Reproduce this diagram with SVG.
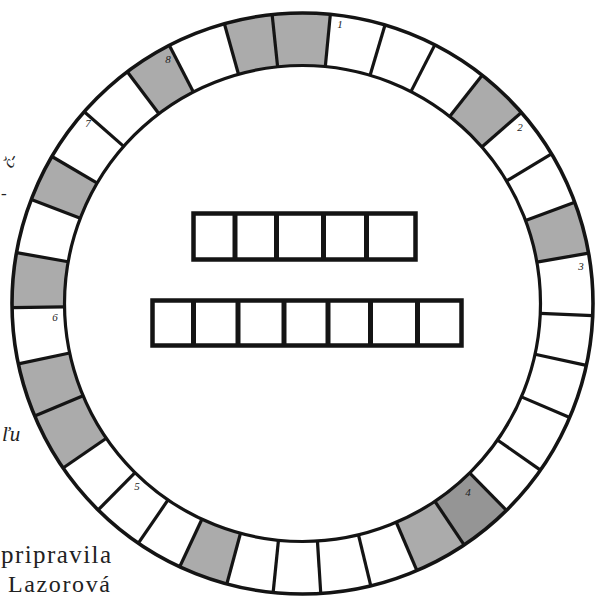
<svg xmlns="http://www.w3.org/2000/svg" xmlns:xlink="http://www.w3.org/1999/xlink" width="597" height="598" viewBox="0 0 597 598">
<style>
  .dk{fill:none;stroke:#ababab;stroke-width:52.5}
  .dk2{fill:none;stroke:#959595;stroke-width:52.5}
  .edge{fill:none;stroke:#141414}
  .dv{stroke:#141414;stroke-width:3.2}
  .box{fill:none;stroke:#141414;stroke-width:4.5}
  .bl{stroke:#141414;stroke-width:5}
  .num{font-family:"Liberation Serif","DejaVu Serif",serif;font-style:italic;font-size:11px;fill:#222;text-anchor:middle}
  .txt{font-family:"Liberation Serif","DejaVu Serif",serif;fill:#222}
</style>
<defs>
  <line id="dvl" x1="0" y1="-238" x2="0" y2="-290.5" class="dv"/>
</defs>
<rect width="597" height="598" fill="#ffffff"/>

<g id="ring">
  <g id="shaded-cells">
    <circle class="dk" cx="302.5" cy="303.5" r="264.25" stroke-dasharray="53 2000" transform="rotate(-96 302.5 303.5)"/>
    <circle class="dk" cx="302.5" cy="303.5" r="264.25" stroke-dasharray="49.3 2000" transform="rotate(-51.8 302.5 303.5)"/>
    <circle class="dk" cx="302.5" cy="303.5" r="264.25" stroke-dasharray="48 2000" transform="rotate(-20.4 302.5 303.5)"/>
    <circle class="dk2" cx="302.5" cy="303.5" r="264.25" stroke-dasharray="49.8 2000" transform="rotate(45.4 302.5 303.5)"/>
    <circle class="dk" cx="302.5" cy="303.5" r="264.25" stroke-dasharray="48.9 2000" transform="rotate(56.2 302.5 303.5)"/>
    <circle class="dk" cx="302.5" cy="303.5" r="264.25" stroke-dasharray="45.7 2000" transform="rotate(105.1 302.5 303.5)"/>
    <circle class="dk" cx="302.5" cy="303.5" r="264.25" stroke-dasharray="54 2000" transform="rotate(145.5 302.5 303.5)"/>
    <circle class="dk" cx="302.5" cy="303.5" r="264.25" stroke-dasharray="49.8 2000" transform="rotate(157.2 302.5 303.5)"/>
    <circle class="dk" cx="302.5" cy="303.5" r="264.25" stroke-dasharray="50.3 2000" transform="rotate(179.2 302.5 303.5)"/>
    <circle class="dk" cx="302.5" cy="303.5" r="264.25" stroke-dasharray="43.4 2000" transform="rotate(201 302.5 303.5)"/>
    <circle class="dk" cx="302.5" cy="303.5" r="264.25" stroke-dasharray="45.2 2000" transform="rotate(232.9 302.5 303.5)"/>
    <circle class="dk" cx="302.5" cy="303.5" r="264.25" stroke-dasharray="44.3 2000" transform="rotate(254.4 302.5 303.5)"/>
  </g>
  <circle class="edge" cx="302.5" cy="303.5" r="290.5" stroke-width="3.6"/>
  <circle class="edge" cx="302.5" cy="303.5" r="238" stroke-width="3.2"/>
  <g id="ring-dividers" transform="translate(302.5 303.5)">
    <use xlink:href="#dvl" transform="rotate(-6)"/>
    <use xlink:href="#dvl" transform="rotate(5.5)" style="stroke-width:6"/>
    <use xlink:href="#dvl" transform="rotate(16.5)"/>
    <use xlink:href="#dvl" transform="rotate(27.1)"/>
    <use xlink:href="#dvl" transform="rotate(38.2)"/>
    <use xlink:href="#dvl" transform="rotate(48.9)"/>
    <use xlink:href="#dvl" transform="rotate(59)"/>
    <use xlink:href="#dvl" transform="rotate(69.6)"/>
    <use xlink:href="#dvl" transform="rotate(80)"/>
    <use xlink:href="#dvl" transform="rotate(92.4)"/>
    <use xlink:href="#dvl" transform="rotate(102.3)"/>
    <use xlink:href="#dvl" transform="rotate(113.1)"/>
    <use xlink:href="#dvl" transform="rotate(125)"/>
    <use xlink:href="#dvl" transform="rotate(135.4)"/>
    <use xlink:href="#dvl" transform="rotate(146.2)"/>
    <use xlink:href="#dvl" transform="rotate(156.8)"/>
    <use xlink:href="#dvl" transform="rotate(166.4)"/>
    <use xlink:href="#dvl" transform="rotate(176.4)"/>
    <use xlink:href="#dvl" transform="rotate(185.8)"/>
    <use xlink:href="#dvl" transform="rotate(195.1)"/>
    <use xlink:href="#dvl" transform="rotate(205)"/>
    <use xlink:href="#dvl" transform="rotate(214.4)"/>
    <use xlink:href="#dvl" transform="rotate(224.7)"/>
    <use xlink:href="#dvl" transform="rotate(235.5)"/>
    <use xlink:href="#dvl" transform="rotate(247.2)"/>
    <use xlink:href="#dvl" transform="rotate(258)"/>
    <use xlink:href="#dvl" transform="rotate(269.2)"/>
    <use xlink:href="#dvl" transform="rotate(280.1)"/>
    <use xlink:href="#dvl" transform="rotate(291)"/>
    <use xlink:href="#dvl" transform="rotate(300.4)"/>
    <use xlink:href="#dvl" transform="rotate(311.3)"/>
    <use xlink:href="#dvl" transform="rotate(322.9)"/>
    <use xlink:href="#dvl" transform="rotate(332.7)"/>
    <use xlink:href="#dvl" transform="rotate(344.4)"/>
  </g>
  <g id="ring-numbers">
    <text class="num" x="340" y="28">1</text>
    <text class="num" x="520" y="131">2</text>
    <text class="num" x="581" y="270">3</text>
    <text class="num" x="468" y="496">4</text>
    <text class="num" x="137" y="490">5</text>
    <text class="num" x="55" y="321">6</text>
    <text class="num" x="88" y="127">7</text>
    <text class="num" x="168" y="63">8</text>
  </g>
</g>

<g id="word-5">
  <rect class="box" x="193.5" y="213.5" width="222" height="46"/>
  <line class="bl" x1="235" y1="213.5" x2="235" y2="259.5"/>
  <line class="bl" x1="276.5" y1="213.5" x2="276.5" y2="259.5"/>
  <line class="bl" x1="323.5" y1="213.5" x2="323.5" y2="259.5"/>
  <line class="bl" x1="366.5" y1="213.5" x2="366.5" y2="259.5"/>
</g>

<g id="word-7">
  <rect class="box" x="152.5" y="300.5" width="309" height="45"/>
  <line class="bl" x1="193.5" y1="300.5" x2="193.5" y2="345.5"/>
  <line class="bl" x1="238" y1="300.5" x2="238" y2="345.5"/>
  <line class="bl" x1="284" y1="300.5" x2="284" y2="345.5"/>
  <line class="bl" x1="328" y1="300.5" x2="328" y2="345.5"/>
  <line class="bl" x1="370.5" y1="300.5" x2="370.5" y2="345.5"/>
  <line class="bl" x1="417.5" y1="300.5" x2="417.5" y2="345.5"/>
</g>

<g id="margin-text">
  <text class="txt" x="3" y="166" font-size="17" font-style="italic" transform="rotate(-60 10 160)">č-</text>
  <text class="txt" x="1" y="199" font-size="17" font-style="italic">-</text>
  <text class="txt" x="2" y="441" font-size="21" font-style="italic">ľu</text>
  <text class="txt" x="1" y="563" font-size="25" textLength="110" lengthAdjust="spacing">pripravila</text>
  <text class="txt" x="8" y="592" font-size="24" textLength="102" lengthAdjust="spacing">Lazorová</text>
</g>
</svg>
